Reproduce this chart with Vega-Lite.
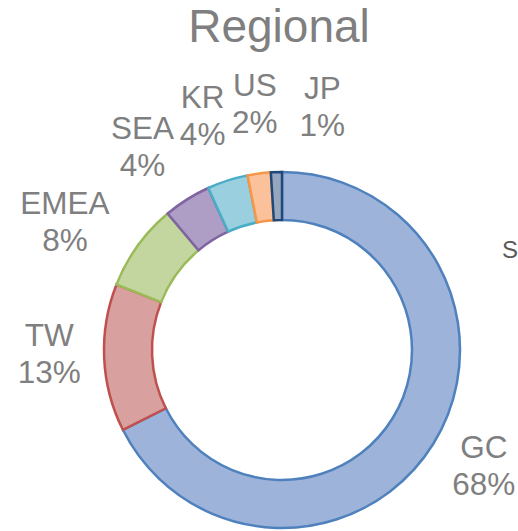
{
  "$schema": "https://vega.github.io/schema/vega-lite/v6.json",
  "width": 472,
  "height": 362,
  "autosize": {"type": "none"},
  "padding": {"left": 46, "top": 169, "right": 0, "bottom": 0},
  "background": "white",
  "title": {
    "text": "Regional",
    "font": "Liberation Sans",
    "fontSize": 46,
    "fontWeight": "normal",
    "color": "#7f7f7f",
    "anchor": "middle",
    "baseline": "alphabetic",
    "offset": -17,
    "dx": -3
  },
  "data": {
    "values": [
      {"region": "GC", "value": 67.6, "label": "GC\n68%"},
      {"region": "TW", "value": 13.4, "label": "TW\n13%"},
      {"region": "EMEA", "value": 7.9, "label": "EMEA\n8%"},
      {"region": "SEA", "value": 4.3, "label": "SEA\n4%"},
      {"region": "KR", "value": 3.7, "label": "KR\n4%"},
      {"region": "US", "value": 2.1, "label": "US\n2%"},
      {"region": "JP", "value": 1.0, "label": "JP\n1%"}
    ]
  },
  "transform": [
    {"stack": "value", "groupby": [], "sort": [{"field": "value", "order": "descending"}], "as": ["v0", "v1"]},
    {"calculate": "(datum.v0 + datum.v1) / 2", "as": "mid"}
  ],
  "layer": [
    {
      "mark": {"type": "arc", "outerRadius": 178, "innerRadius": 130, "strokeWidth": 2.5},
      "encoding": {
        "theta": {"field": "v0", "type": "quantitative", "scale": {"domain": [0, 100]}},
        "theta2": {"field": "v1"},
        "fill": {
          "field": "region", "type": "nominal",
          "scale": {
            "domain": ["GC", "TW", "EMEA", "SEA", "KR", "US", "JP"],
            "range": ["#9db3da", "#d9a0a0", "#c3d69f", "#ae9dc5", "#9acfdf", "#fbc19a", "#96a6bd"]
          },
          "legend": {
            "title": "S",
            "orient": "none",
            "legendX": 456,
            "legendY": 70,
            "titleFont": "Liberation Sans",
            "titleFontSize": 24,
            "titleFontWeight": "normal",
            "titleColor": "#595959",
            "labelExpr": "''",
            "symbolOpacity": 0,
            "symbolStrokeWidth": 0,
            "symbolSize": 0,
            "padding": 0
          }
        },
        "stroke": {
          "field": "region", "type": "nominal",
          "scale": {
            "domain": ["GC", "TW", "EMEA", "SEA", "KR", "US", "JP"],
            "range": ["#4f81bd", "#c0504d", "#9bbb59", "#8064a2", "#4bacc6", "#f79646", "#1f497d"]
          },
          "legend": null
        }
      }
    },
    {
      "transform": [{"filter": "datum.region == 'GC'"}],
      "mark": {"type": "text", "radius": 243, "dx": -5, "dy": -29, "lineBreak": "\n", "lineHeight": 37, "font": "Liberation Sans", "fontSize": 31.5, "color": "#7f7f7f", "align": "center", "baseline": "middle"},
      "encoding": {"theta": {"field": "mid", "type": "quantitative"}, "text": {"field": "label", "type": "nominal"}}
    },
    {
      "transform": [{"filter": "datum.region == 'TW'"}],
      "mark": {"type": "text", "radius": 243, "dx": 10, "dy": -24, "lineBreak": "\n", "lineHeight": 37, "font": "Liberation Sans", "fontSize": 31.5, "color": "#7f7f7f", "align": "center", "baseline": "middle"},
      "encoding": {"theta": {"field": "mid", "type": "quantitative"}, "text": {"field": "label", "type": "nominal"}}
    },
    {
      "transform": [{"filter": "datum.region == 'EMEA'"}],
      "mark": {"type": "text", "radius": 243, "dx": -20, "dy": -3, "lineBreak": "\n", "lineHeight": 37, "font": "Liberation Sans", "fontSize": 31.5, "color": "#7f7f7f", "align": "center", "baseline": "middle"},
      "encoding": {"theta": {"field": "mid", "type": "quantitative"}, "text": {"field": "label", "type": "nominal"}}
    },
    {
      "transform": [{"filter": "datum.region == 'SEA'"}],
      "mark": {"type": "text", "radius": 243, "dx": -10, "dy": -14, "lineBreak": "\n", "lineHeight": 37, "font": "Liberation Sans", "fontSize": 31.5, "color": "#7f7f7f", "align": "center", "baseline": "middle"},
      "encoding": {"theta": {"field": "mid", "type": "quantitative"}, "text": {"field": "label", "type": "nominal"}}
    },
    {
      "transform": [{"filter": "datum.region == 'KR'"}],
      "mark": {"type": "text", "radius": 243, "dx": -5, "dy": -20, "lineBreak": "\n", "lineHeight": 37, "font": "Liberation Sans", "fontSize": 31.5, "color": "#7f7f7f", "align": "center", "baseline": "middle"},
      "encoding": {"theta": {"field": "mid", "type": "quantitative"}, "text": {"field": "label", "type": "nominal"}}
    },
    {
      "transform": [{"filter": "datum.region == 'US'"}],
      "mark": {"type": "text", "radius": 243, "dx": 4, "dy": -22, "lineBreak": "\n", "lineHeight": 37, "font": "Liberation Sans", "fontSize": 31.5, "color": "#7f7f7f", "align": "center", "baseline": "middle"},
      "encoding": {"theta": {"field": "mid", "type": "quantitative"}, "text": {"field": "label", "type": "nominal"}}
    },
    {
      "transform": [{"filter": "datum.region == 'JP'"}],
      "mark": {"type": "text", "radius": 243, "dx": 48, "dy": -17, "lineBreak": "\n", "lineHeight": 37, "font": "Liberation Sans", "fontSize": 31.5, "color": "#7f7f7f", "align": "center", "baseline": "middle"},
      "encoding": {"theta": {"field": "mid", "type": "quantitative"}, "text": {"field": "label", "type": "nominal"}}
    }
  ]
}
